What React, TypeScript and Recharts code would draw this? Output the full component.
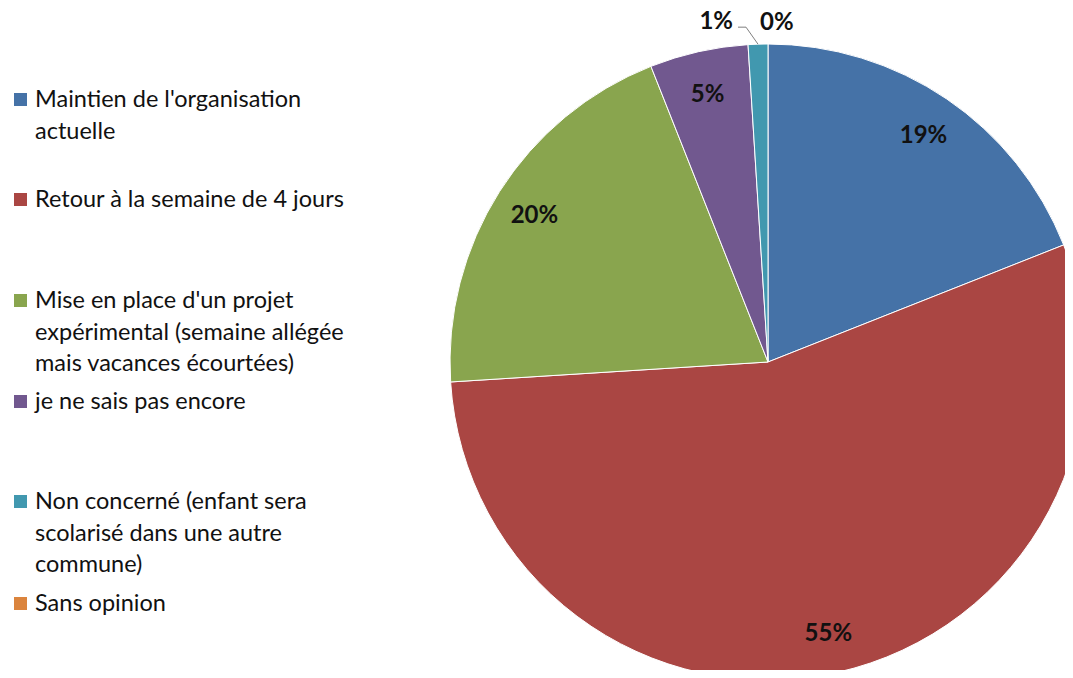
import React from "react";
import { PieChart, Pie, Cell } from "recharts";

const categories = [
  "Maintien de l'organisation actuelle",
  "Retour à la semaine de 4 jours",
  "Mise en place d'un projet expérimental (semaine allégée mais vacances écourtées)",
  "je ne sais pas encore",
  "Non concerné (enfant sera scolarisé dans une autre commune)",
  "Sans opinion",
];
const shares = [19, 55, 20, 5, 1, 0];
const colors = ["#4572A7", "#AA4643", "#89A54E", "#71588F", "#4198AF", "#DB843D"];

const data = categories.map((name, i) => ({ name, value: shares[i] }));

const FONT = "Lato, 'Open Sans', sans-serif";
const RAD = Math.PI / 180;

// top of each legend entry (first line)
const legendTops = [83, 183, 284, 385, 485, 587];

const renderLabel = (props: any) => {
  const { cx, cy, midAngle, outerRadius, value, index } = props;
  const cos = Math.cos(-midAngle * RAD);
  const sin = Math.sin(-midAngle * RAD);
  const style = { fontFamily: FONT, fontWeight: 700, fontSize: 24, fill: "#111" };
  if (value >= 2) {
    const r = outerRadius * 0.87;
    return (
      <text key={index} x={cx + r * cos} y={cy + r * sin} textAnchor="middle" dominantBaseline="central" style={style}>
        {value}%
      </text>
    );
  }
  if (value > 0) {
    const px = cx + outerRadius * cos;
    const py = cy + outerRadius * sin;
    const ex = px - 12;
    const ey = py - 17;
    return (
      <g key={index}>
        <polyline points={`${px},${py} ${ex},${ey} ${ex - 8},${ey}`} fill="none" stroke="#7f7f7f" strokeWidth={1} />
        <text x={ex - 13} y={ey - 8} textAnchor="end" dominantBaseline="central" style={style}>
          {value}%
        </text>
      </g>
    );
  }
  return (
    <text key={index} x={cx - 8} y={cy - outerRadius - 24} textAnchor="start" dominantBaseline="central" style={style}>
      {value}%
    </text>
  );
};

const LegendBox = () => (
  <div style={{ position: "absolute", left: 0, top: 0, width: 380, height: 660, fontFamily: FONT, fontSize: 23.5, color: "#111" }}>
    {categories.map((name, i) => (
      <div key={name} style={{ position: "absolute", left: 14, top: legendTops[i], width: 360, display: "flex", lineHeight: "31.5px" }}>
        <span style={{ display: "inline-block", width: 13, height: 13, background: colors[i], marginTop: 10, marginRight: 8, flex: "none" }} />
        <span style={{ width: 335 }}>{name}</span>
      </div>
    ))}
  </div>
);

export default function App() {
  return (
    <div style={{ position: "relative", width: 1073, height: 678, margin: -8 }}>
      <PieChart width={1073} height={678} margin={{ top: 0, right: 0, bottom: 0, left: 0 }}>
        <Pie
          data={data}
          dataKey="value"
          nameKey="name"
          cx={768}
          cy={362}
          outerRadius={318}
          startAngle={90}
          endAngle={-270}
          stroke="#ffffff"
          strokeWidth={1}
          label={renderLabel}
          labelLine={false}
          isAnimationActive={false}
        >
          {data.map((d, i) => (
            <Cell key={d.name} fill={colors[i]} />
          ))}
        </Pie>
      </PieChart>
      <LegendBox />
    </div>
  );
}
